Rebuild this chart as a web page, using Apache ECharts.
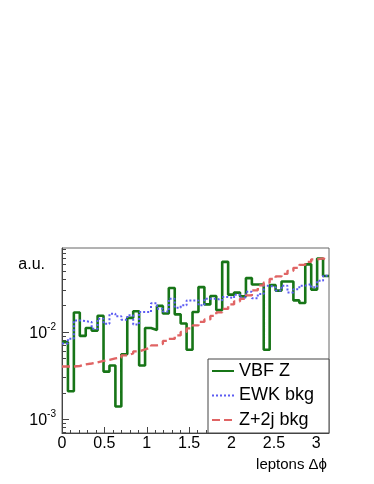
<!DOCTYPE html>
<html>
<head>
<meta charset="utf-8">
<script src="https://cdn.jsdelivr.net/npm/echarts@6/dist/echarts.min.js"></script>
<style>
  html, body { margin: 0; padding: 0; background: #fff; }
  #chart { width: 374px; height: 484px; }
</style>
</head>
<body>
<div id="chart"></div>
<script>
// histogram range, 45 bins
const X_MIN = 0
const X_MAX = 3.15
const N_BINS = 45

// per-bin contents (a.u.)
const vbfZ = [0.00763, 0.00208, 0.0167, 0.0090, 0.0111, 0.01035, 0.01535, 0.0035, 0.00412, 0.00139,
  0.00554, 0.0145, 0.0173, 0.00412, 0.0111, 0.01054, 0.0199, 0.0163, 0.0319, 0.0159,
  0.0125, 0.00624, 0.0169, 0.0327, 0.0207, 0.0259, 0.0178, 0.0638, 0.0268, 0.0283,
  0.0256, 0.0415, 0.0351, 0.0351, 0.00624, 0.0345, 0.0298, 0.038, 0.038, 0.023,
  0.0215, 0.0597, 0.0306, 0.0697, 0.0438]
const ewkBkg = [0.00738, 0.00835, 0.01355, 0.0133, 0.01296, 0.01088, 0.0142, 0.0124, 0.0162, 0.0151,
  0.0138, 0.0155, 0.0122, 0.0169, 0.0169, 0.0213, 0.0185, 0.0172, 0.0241, 0.019,
  0.0202, 0.023, 0.023, 0.0202, 0.0241, 0.0241, 0.023, 0.0251, 0.0245, 0.0268,
  0.0249, 0.029, 0.0243, 0.0272, 0.034, 0.0325, 0.0298, 0.034, 0.0284, 0.031,
  0.034, 0.0354, 0.0325, 0.0388, 0.0443]
const zjjBkg = [0.00401, 0.00401, 0.00406, 0.00423, 0.00434, 0.00446, 0.00464, 0.00477, 0.00496, 0.00509,
  0.00537, 0.00566, 0.00597, 0.00629, 0.00663, 0.0070, 0.00728, 0.00788, 0.00831, 0.00912,
  0.0100, 0.01097, 0.01188, 0.01303, 0.01392, 0.01528, 0.01675, 0.01837, 0.02069, 0.02243,
  0.02396, 0.02628, 0.0300, 0.0342, 0.0370, 0.0406, 0.0434, 0.0464, 0.0503, 0.0544,
  0.0589, 0.0638, 0.0681, 0.0700, 0.0664]

const seriesNames = ['VBF Z', 'EWK bkg', 'Z+2j bkg']

// axis ticks
const xMajorTicks = [0, 0.5, 1, 1.5, 2, 2.5, 3]
const xMinorTicks = []
for (let i = 1; i <= 31; i++) if (i % 5 !== 0) xMinorTicks.push(+(i * 0.1).toFixed(1))
const yMajorTicks = [0.001, 0.01]
const yMinorTicks = [0.0007, 0.0008, 0.0009,
  0.002, 0.003, 0.004, 0.005, 0.006, 0.007, 0.008, 0.009,
  0.02, 0.03, 0.04, 0.05, 0.06, 0.07, 0.08, 0.09]

const FONT = 'Liberation Sans, Arial, Helvetica, sans-serif'

// bin contents -> step line points (left edges + closing right edge)
const toSteps = (vals) => {
  const w = (X_MAX - X_MIN) / N_BINS
  const pts = vals.map((v, i) => [X_MIN + i * w, v])
  pts.push([X_MAX, vals[vals.length - 1]])
  return pts
}

const histSeries = (name, vals, lineStyle) => ({
  name,
  type: 'line',
  step: 'end',
  showSymbol: false,
  symbol: 'none',
  data: toSteps(vals),
  lineStyle,
  itemStyle: { color: lineStyle.color },
  z: 3
})

const chart = echarts.init(document.getElementById('chart'), null, { renderer: 'canvas' })

const option = {
  animation: false,
  backgroundColor: '#fff',
  textStyle: { fontFamily: FONT },
  grid: {
    left: 62,
    top: 248,
    width: 267,
    height: 185,
    show: true,
    borderColor: '#666',
    borderWidth: 1,
    containLabel: false
  },
  xAxis: [
    {
      type: 'value',
      min: X_MIN,
      max: X_MAX,
      position: 'bottom',
      name: 'leptons Δϕ',
      nameLocation: 'end',
      nameGap: 0,
      nameTextStyle: {
        fontFamily: FONT, fontSize: 15, color: '#000',
        align: 'right', verticalAlign: 'top', padding: [24, 2, 0, 0]
      },
      axisLine: { show: true, lineStyle: { color: '#444', width: 1 } },
      axisTick: { show: true, inside: true, length: 6, customValues: xMajorTicks, lineStyle: { color: '#444' } },
      axisLabel: {
        customValues: xMajorTicks,
        fontFamily: FONT, fontSize: 16, color: '#000', margin: 3,
        formatter: (v) => String(v)
      },
      splitLine: { show: false }
    },
    {
      type: 'value',
      min: X_MIN,
      max: X_MAX,
      position: 'bottom',
      offset: 0,
      axisLine: { show: false },
      axisTick: { show: true, inside: true, length: 3, customValues: xMinorTicks, lineStyle: { color: '#444' } },
      axisLabel: { show: false },
      splitLine: { show: false }
    }
  ],
  yAxis: [
    {
      type: 'log',
      logBase: 10,
      min: 0.00069,
      max: 0.092,
      position: 'left',
      name: 'a.u.',
      nameLocation: 'end',
      nameGap: -25,
      nameTextStyle: {
        fontFamily: FONT, fontSize: 16, color: '#000',
        align: 'right', padding: [0, 17, 0, 0]
      },
      axisLine: { show: true, lineStyle: { color: '#444', width: 1 } },
      axisTick: { show: true, inside: true, length: 7, customValues: yMajorTicks, lineStyle: { color: '#444' } },
      axisLabel: {
        customValues: yMajorTicks,
        margin: 6,
        formatter: (v) => '{b|10}{s|' + Math.round(Math.log10(v)) + '}',
        rich: {
          b: { fontFamily: FONT, fontSize: 16, color: '#000', verticalAlign: 'bottom', lineHeight: 20 },
          s: { fontFamily: FONT, fontSize: 10, color: '#000', verticalAlign: 'top', lineHeight: 20 }
        }
      },
      splitLine: { show: false }
    },
    {
      type: 'log',
      logBase: 10,
      min: 0.00069,
      max: 0.092,
      position: 'left',
      offset: 0,
      axisLine: { show: false },
      axisTick: { show: true, inside: true, length: 4, customValues: yMinorTicks, lineStyle: { color: '#444' } },
      axisLabel: { show: false },
      splitLine: { show: false }
    }
  ],
  legend: {
    orient: 'vertical',
    left: 211,
    top: 362,
    itemWidth: 22,
    itemHeight: 14,
    itemGap: 6.5,
    padding: 0,
    data: seriesNames,
    // line-only icons (hide the marker that line series add)
    itemStyle: { opacity: 0 },
    textStyle: { fontFamily: FONT, fontSize: 18, color: '#000', lineHeight: 18 },
    z: 6
  },
  graphic: [
    {
      type: 'rect',
      z: 4,
      shape: { x: 208, y: 359, width: 121, height: 74 },
      style: { fill: '#fff', stroke: '#444', lineWidth: 1 }
    }
  ],
  series: [
    histSeries(seriesNames[0], vbfZ, { color: '#177517', width: 2.6 }),
    histSeries(seriesNames[1], ewkBkg, { color: '#5c5cf2', width: 2, type: 'dotted' }),
    histSeries(seriesNames[2], zjjBkg, { color: '#e06464', width: 2.4, type: [8, 4] })
  ]
}

chart.setOption(option)
</script>
</body>
</html>
